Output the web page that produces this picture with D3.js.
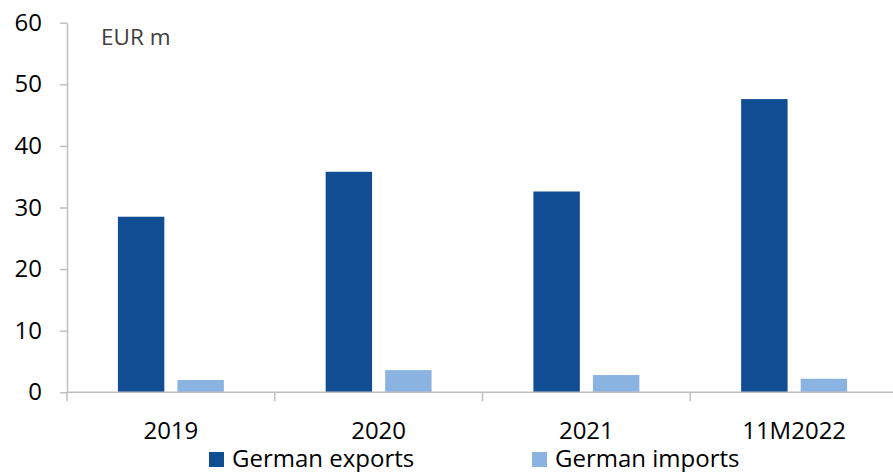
<!DOCTYPE html>
<html>
<head>
<meta charset="utf-8">
<script src="https://cdn.jsdelivr.net/npm/d3@7"></script>
<style>
  html, body { margin: 0; padding: 0; background: #fff; }
  svg { display: block; font-family: "Open Sans", "Noto Sans", sans-serif; }
</style>
</head>
<body>
<svg id="chart" width="893" height="472"></svg>
<script>
// Annual German trade flows, EUR m
const categories = ["2019", "2020", "2021", "11M2022"];
const seriesNames = ["German exports", "German imports"];
const exportsValues = [28.5, 35.8, 32.6, 47.6];
const importsValues = [2.0, 3.6, 2.8, 2.2];
const yTicks = [0, 10, 20, 30, 40, 50, 60];
const colors = ["#114D92", "#8AB3E2"];

const svg = d3.select("#chart");
const axisColor = "#BFBFBF";

const plot = { left: 67, right: 898, top: 22.7, bottom: 392.3 };

const y = d3.scaleLinear().domain([0, 60]).range([plot.bottom, plot.top]);

const x0 = d3.scaleBand()
  .domain(categories)
  .range([plot.left, plot.right])
  .paddingInner(0.49)
  .paddingOuter(0.245);

const x1 = d3.scaleBand()
  .domain(seriesNames)
  .range([0, x0.bandwidth()])
  .paddingInner(0.22);

const rows = categories.map((c, i) => ({
  category: c,
  values: [
    { series: seriesNames[0], value: exportsValues[i] },
    { series: seriesNames[1], value: importsValues[i] }
  ]
}));

// bars
const groups = svg.append("g").selectAll("g")
  .data(rows)
  .join("g")
  .attr("transform", d => `translate(${x0(d.category)},0)`);

groups.selectAll("rect")
  .data(d => d.values)
  .join("rect")
  .attr("x", d => x1(d.series))
  .attr("width", x1.bandwidth())
  .attr("y", d => y(d.value))
  .attr("height", d => y(0) - y(d.value))
  .attr("fill", (d, i) => colors[i]);

// y axis
const yAxis = svg.append("g")
  .attr("transform", `translate(${plot.left},0)`)
  .call(d3.axisLeft(y).tickValues(yTicks).tickSize(7).tickPadding(18).tickSizeOuter(0));
yAxis.select(".domain").attr("stroke", axisColor).attr("stroke-width", 1.5);
yAxis.selectAll(".tick line").attr("stroke", axisColor).attr("stroke-width", 1.5);
yAxis.selectAll(".tick text")
  .attr("fill", "#000")
  .style("font-size", "24px")
  .style("font-family", "'Open Sans', 'Noto Sans', sans-serif");

// x axis baseline with category separators
const xAxis = svg.append("g");
xAxis.append("line")
  .attr("x1", plot.left).attr("x2", 893)
  .attr("y1", y(0)).attr("y2", y(0))
  .attr("stroke", axisColor).attr("stroke-width", 1.5);
const step = x0.step();
const bounds = categories.map((c, i) => plot.left + i * step);
xAxis.selectAll("line.sep")
  .data(bounds)
  .join("line")
  .attr("class", "sep")
  .attr("x1", d => d).attr("x2", d => d)
  .attr("y1", y(0)).attr("y2", y(0) + 9)
  .attr("stroke", axisColor).attr("stroke-width", 1.5);

xAxis.selectAll("text")
  .data(categories)
  .join("text")
  .attr("x", d => x0(d) + x0.bandwidth() / 2)
  .attr("y", 439)
  .attr("text-anchor", "middle")
  .style("font-size", "24px")
  .attr("fill", "#000")
  .text(d => d);

// unit label
svg.append("text")
  .attr("x", 101)
  .attr("y", 45)
  .style("font-size", "22.5px")
  .attr("fill", "#404040")
  .text("EUR m");

// legend
const legendPos = [209, 532];
const legend = svg.append("g").selectAll("g")
  .data(seriesNames)
  .join("g")
  .attr("transform", (d, i) => `translate(${legendPos[i]},0)`);
legend.append("rect")
  .attr("x", 0).attr("y", 452)
  .attr("width", 15).attr("height", 15)
  .attr("fill", (d, i) => colors[i]);
legend.append("text")
  .attr("x", 23).attr("y", 467)
  .style("font-size", "24px")
  .attr("fill", "#000")
  .text(d => d);
</script>
</body>
</html>
